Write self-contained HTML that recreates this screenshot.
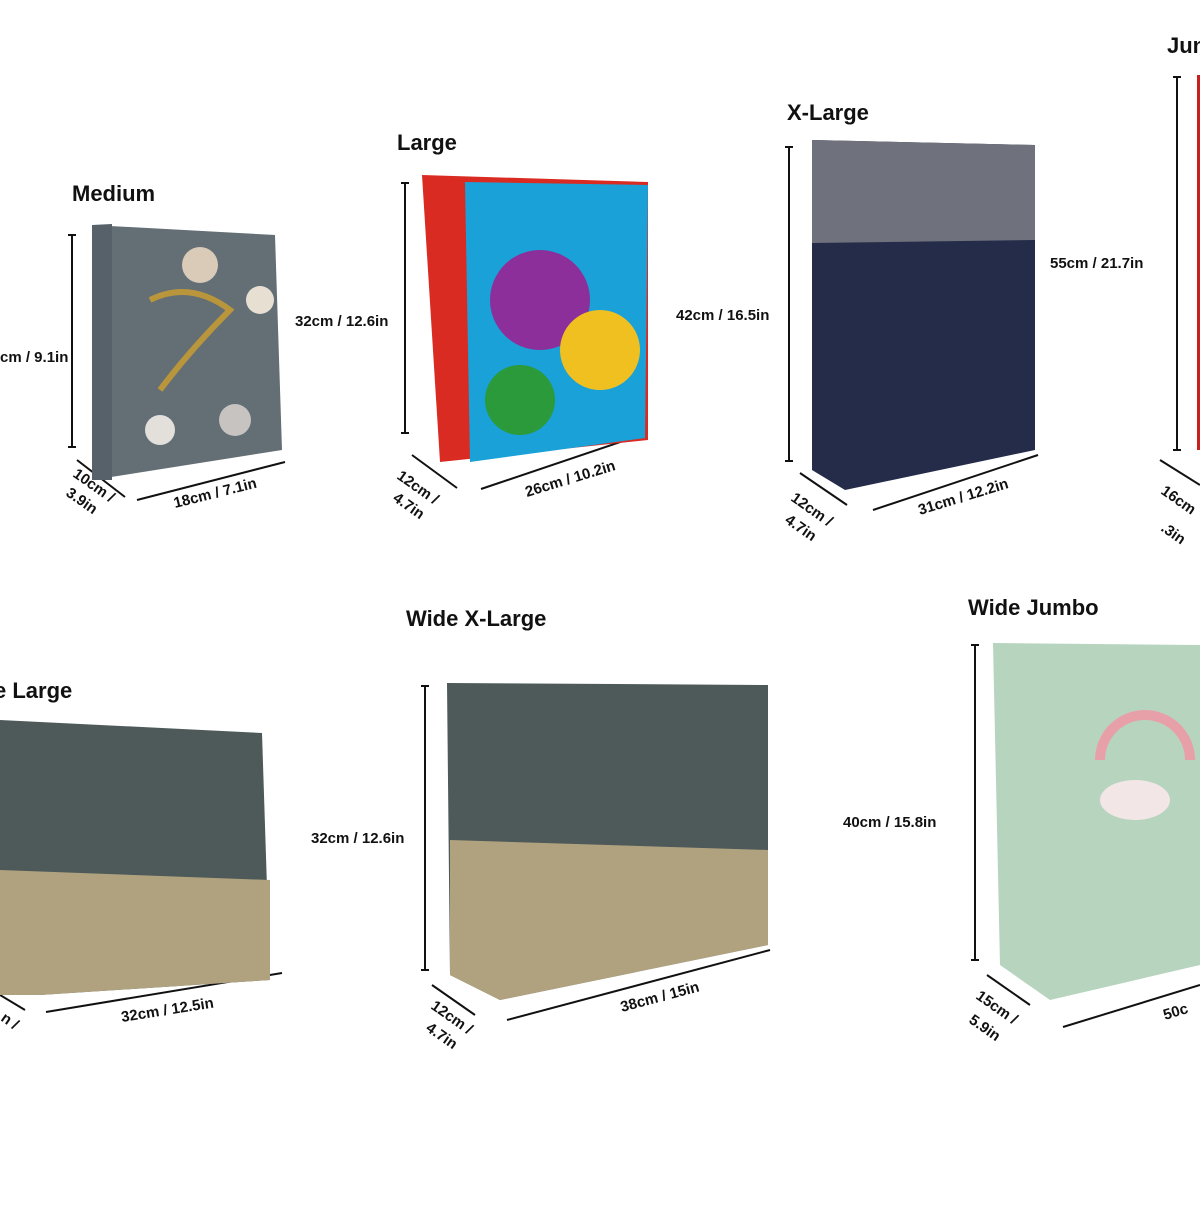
<!DOCTYPE html>
<html><head><meta charset="utf-8"><style>
body{margin:0;background:#fff;width:1200px;height:1200px;overflow:hidden}
svg text{font-family:"Liberation Sans",sans-serif;fill:#111}
.t{font-size:22px;font-weight:bold}
.d{font-size:15px;font-weight:bold}
</style></head><body>
<svg width="1200" height="1200" viewBox="0 0 1200 1200">
<g stroke="#111" stroke-width="2" fill="none">
<line x1="72" y1="235" x2="72" y2="447"/><line x1="68" y1="235" x2="76" y2="235"/><line x1="68" y1="447" x2="76" y2="447"/>
<line x1="77" y1="460" x2="125" y2="497"/><line x1="137" y1="500" x2="285" y2="462"/>
<line x1="405" y1="183" x2="405" y2="433"/><line x1="401" y1="183" x2="409" y2="183"/><line x1="401" y1="433" x2="409" y2="433"/>
<line x1="412" y1="455" x2="457" y2="488"/><line x1="481" y1="489" x2="647" y2="433"/>
<line x1="789" y1="147" x2="789" y2="461"/><line x1="785" y1="147" x2="793" y2="147"/><line x1="785" y1="461" x2="793" y2="461"/>
<line x1="800" y1="473" x2="847" y2="505"/><line x1="873" y1="510" x2="1038" y2="455"/>
<line x1="1177" y1="77" x2="1177" y2="450"/><line x1="1173" y1="77" x2="1181" y2="77"/><line x1="1173" y1="450" x2="1181" y2="450"/>
<line x1="1160" y1="460" x2="1200" y2="485"/>
<line x1="46" y1="1012" x2="282" y2="973"/><line x1="0" y1="995" x2="25" y2="1010"/>
<line x1="425" y1="686" x2="425" y2="970"/><line x1="421" y1="686" x2="429" y2="686"/><line x1="421" y1="970" x2="429" y2="970"/>
<line x1="432" y1="985" x2="475" y2="1015"/><line x1="507" y1="1020" x2="770" y2="950"/>
<line x1="975" y1="645" x2="975" y2="960"/><line x1="971" y1="645" x2="979" y2="645"/><line x1="971" y1="960" x2="979" y2="960"/>
<line x1="987" y1="975" x2="1030" y2="1005"/><line x1="1063" y1="1027" x2="1200" y2="985"/>
</g>
<polygon points="92,225 275,235 282,450 92,480" fill="#636e75"/>
<polygon points="92,225 112,224 112,480 92,480" fill="#56616a"/>
<circle cx="200" cy="265" r="18" fill="#d9cbb8"/><circle cx="160" cy="430" r="15" fill="#e3e0dc"/><circle cx="235" cy="420" r="16" fill="#c6c3c0"/><circle cx="260" cy="300" r="14" fill="#e8dfd3"/>
<path d="M150 300 q40 -20 80 10 q-40 40 -70 80" stroke="#b9953c" stroke-width="6" fill="none"/>
<polygon points="422,175 648,182 648,440 440,462" fill="#d92b22"/>
<polygon points="465,182 648,185 645,438 470,462" fill="#1aa1d8"/>
<circle cx="540" cy="300" r="50" fill="#8c2f9a"/><circle cx="600" cy="350" r="40" fill="#f0c020"/><circle cx="520" cy="400" r="35" fill="#2a9a3a"/>
<polygon points="812,140 1035,145 1035,450 845,490 812,470" fill="#242c49"/>
<polygon points="812,140 1035,145 1035,240 812,243" fill="#6f727c"/>
<polygon points="1197,75 1200,75 1200,450 1197,450" fill="#c8201e"/>
<polygon points="0,720 262,733 270,980 40,995 0,995" fill="#4d5a59"/>
<polygon points="0,870 270,880 270,980 40,995 0,995" fill="#b0a27f"/>
<polygon points="447,683 768,685 768,945 500,1000 450,975" fill="#4d5a59"/>
<polygon points="450,840 768,850 768,945 500,1000 450,975" fill="#b0a27f"/>
<polygon points="993,643 1200,645 1200,965 1050,1000 1000,965" fill="#b7d4bf"/>
<path d="M1100 760 a45 45 0 0 1 90 0" stroke="#e8a0a8" stroke-width="10" fill="none"/>
<ellipse cx="1135" cy="800" rx="35" ry="20" fill="#f2e6e6"/>
<text class="t" x="72" y="201">Medium</text>
<text class="t" x="397" y="150">Large</text>
<text class="t" x="787" y="120">X-Large</text>
<text class="t" x="1167" y="53">Jun</text>
<text class="t" x="-6" y="698">e Large</text>
<text class="t" x="406" y="626">Wide X-Large</text>
<text class="t" x="968" y="615">Wide Jumbo</text>
<text class="d" x="0" y="362">cm / 9.1in</text>
<text class="d" x="295" y="326">32cm / 12.6in</text>
<text class="d" x="676" y="320">42cm / 16.5in</text>
<text class="d" x="1050" y="268">55cm / 21.7in</text>
<text class="d" x="311" y="843">32cm / 12.6in</text>
<text class="d" x="843" y="827">40cm / 15.8in</text>
<text class="d" transform="translate(72,476) rotate(35)">10cm /</text>
<text class="d" transform="translate(65,495) rotate(35)">3.9in</text>
<text class="d" transform="translate(175,508) rotate(-14)">18cm / 7.1in</text>
<text class="d" transform="translate(396,478) rotate(35)">12cm /</text>
<text class="d" transform="translate(392,500) rotate(35)">4.7in</text>
<text class="d" transform="translate(527,497) rotate(-17)">26cm / 10.2in</text>
<text class="d" transform="translate(790,500) rotate(35)">12cm /</text>
<text class="d" transform="translate(784,522) rotate(35)">4.7in</text>
<text class="d" transform="translate(920,515) rotate(-17)">31cm / 12.2in</text>
<text class="d" transform="translate(1160,493) rotate(35)">16cm</text>
<text class="d" transform="translate(1160,530) rotate(35)">.3in</text>
<text class="d" transform="translate(122,1022) rotate(-9)">32cm / 12.5in</text>
<text class="d" transform="translate(0,1020) rotate(35)">n /</text>
<text class="d" transform="translate(430,1008) rotate(35)">12cm /</text>
<text class="d" transform="translate(425,1030) rotate(35)">4.7in</text>
<text class="d" transform="translate(622,1012) rotate(-15)">38cm / 15in</text>
<text class="d" transform="translate(975,998) rotate(35)" font-size="18">15cm /</text>
<text class="d" transform="translate(968,1022) rotate(35)" font-size="18">5.9in</text>
<text class="d" transform="translate(1165,1020) rotate(-17)" font-size="18">50c</text>
</svg>
</body></html>
